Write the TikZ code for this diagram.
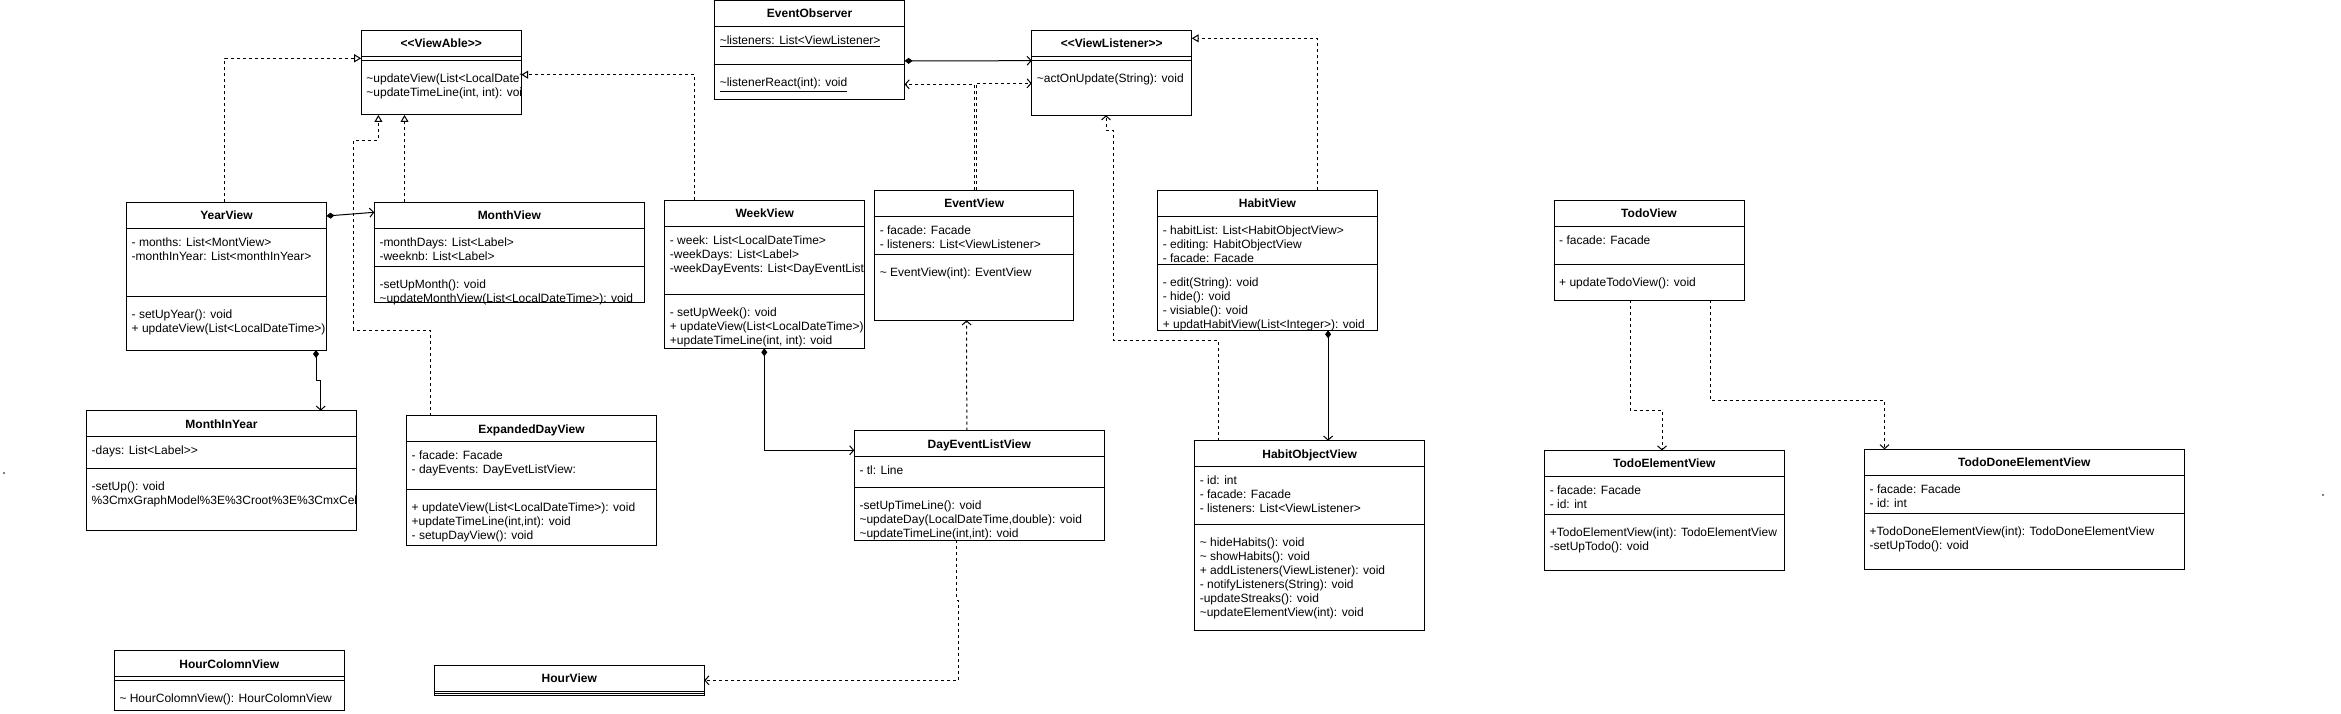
\documentclass[tikz,border=0pt]{standalone}
\usepackage{fontspec}
\setmainfont{Liberation Sans}
\usetikzlibrary{arrows.meta,positioning,calc}

% one class box: name, x, y, width, height, height of attribute part,
% title, attributes, methods
\newcommand{\umlclass}[9]{%
  \node[classbox, minimum width=#4, minimum height=#5] (#1) at (#2,#3) {};
  \draw[classline] ([yshift=-26pt]#1.north west) -- ([yshift=-26pt]#1.north east);
  \draw[classline] ([yshift={-26pt-#6pt}]#1.north west) -- ([yshift={-26pt-#6pt}]#1.north east);
  \node[classtitle] (#1-title) at ([yshift=-13pt]#1.north) {#7};
  \begin{scope}
    \clip ([yshift=40pt]#1.north west) rectangle ([yshift=-40pt]#1.south east);
    \node[members] (#1-attr) at ([xshift=5pt,yshift=-34pt]#1.north west) {\strut #8};
    \node[members] (#1-meth) at ([xshift=5pt,yshift={-38pt-#6pt}]#1.north west) {\strut #9};
  \end{scope}
}
\newcommand{\tld}{\textasciitilde}

\begin{document}
\begin{tikzpicture}[x=1pt, y=-1pt]
\tikzset{
  classbox/.style={draw, line width=1pt, fill=white, anchor=north west, inner sep=0pt, outer sep=0pt},
  classline/.style={line width=1pt},
  classtitle/.style={inner sep=0pt, font=\bfseries\fontsize{12}{14}\selectfont, text height=8.6pt, text depth=0pt},
  members/.style={anchor=north west, inner sep=0pt, align=left, font=\fontsize{12}{14}\selectfont},
  dashline/.style={line width=1pt, dash pattern=on 3pt off 3pt},
  realize/.style={dashline, -{Triangle[open, length=7pt, width=8pt]}},
  depend/.style={dashline, -{Straight Barb[length=4pt, width=9pt]}},
  compose/.style={line width=1pt, {Diamond[length=8pt, width=6pt]}-{Straight Barb[length=4pt, width=9pt]}},
}
\useasboundingbox (0,0) rectangle (2341,714);

% interfaces and observer
\umlclass{viewable}{361.2}{30.3}{160}{84.7}{4}{<{}<ViewAble>{}>}{}{\tld updateView(List<LocalDateTime>): void\\\tld updateTimeLine(int, int): void}
\umlclass{observer}{714.6}{0.5}{190}{99.5}{38.4}{EventObserver}{\underline{\tld listeners: List<ViewListener>}}{\underline{\tld listenerReact(int): void}}
\umlclass{listener}{1031.7}{30.3}{160}{85}{4}{<{}<ViewListener>{}>}{}{\tld actOnUpdate(String): void}

% calendar views
\umlclass{yearview}{126.5}{202.3}{200}{147.7}{67.7}{YearView}{- months: List<MontView>\\-monthInYear: List<monthInYear>}{- setUpYear(): void\\+ updateView(List<LocalDateTime>): void}
\umlclass{monthview}{374.3}{202.3}{270}{100}{38.4}{MonthView}{-monthDays: List<Label>\\-weeknb: List<Label>}{-setUpMonth(): void\\\tld updateMonthView(List<LocalDateTime>): void}
\umlclass{weekview}{664.7}{200.3}{200}{148}{68}{WeekView}{- week: List<LocalDateTime>\\-weekDays: List<Label>\\-weekDayEvents: List<DayEventListView>}{- setUpWeek(): void\\+ updateView(List<LocalDateTime>): void\\+updateTimeLine(int, int): void}
\umlclass{eventview}{874.6}{190.3}{199.2}{130}{38}{EventView}{- facade: Facade\\- listeners: List<ViewListener>}{\tld{} EventView(int): EventView}
\umlclass{monthinyear}{86.5}{410.7}{270}{119.3}{32}{MonthInYear}{-days: List<Label>{}>}{-setUp(): void\\\%3CmxGraphModel\%3E\%3Croot\%3E\%3CmxCell\%3E\%3CmxCell}
\umlclass{expanded}{406.5}{415.7}{250}{129.3}{47.6}{ExpandedDayView}{- facade: Facade\\- dayEvents: DayEvetListView:}{+ updateView(List<LocalDateTime>): void\\+updateTimeLine(int,int): void\\- setupDayView(): void}
\umlclass{dayevents}{854.3}{430.7}{250}{109.6}{30.4}{DayEventListView}{- tl: Line}{-setUpTimeLine(): void\\\tld updateDay(LocalDateTime,double): void\\\tld updateTimeLine(int,int): void}
\umlclass{hourcolomn}{114.3}{650.7}{230}{59.3}{4}{HourColomnView}{}{\tld{} HourColomnView(): HourColomnView}
\umlclass{hourview}{434.3}{665.5}{270}{29.5}{1.5}{HourView}{}{}

% habit views
\umlclass{habitview}{1157.6}{190.3}{219.7}{140}{48.3}{HabitView}{- habitList: List<HabitObjectView>\\- editing: HabitObjectView\\- facade: Facade}{- edit(String): void\\- hide(): void\\- visiable(): void\\+ updatHabitView(List<Integer>): void}
\umlclass{habitobject}{1194.6}{440.7}{230}{189.3}{58}{HabitObjectView}{- id: int\\- facade: Facade\\- listeners: List<ViewListener>}{\tld{} hideHabits(): void\\\tld{} showHabits(): void\\+ addListeners(ViewListener): void\\- notifyListeners(String): void\\-updateStreaks(): void\\\tld updateElementView(int): void}

% todo views
\umlclass{todoview}{1554}{200.3}{190}{99.7}{38}{TodoView}{- facade: Facade}{+ updateTodoView(): void}
\umlclass{todoelement}{1544.6}{450.5}{239.4}{119.5}{38}{TodoElementView}{- facade: Facade\\- id: int}{+TodoElementView(int): TodoElementView\\-setUpTodo(): void}
\umlclass{tododone}{1864.5}{449.3}{319.5}{119.7}{38}{TodoDoneElementView}{- facade: Facade\\- id: int}{+TodoDoneElementView(int): TodoDoneElementView\\-setUpTodo(): void}

% realizations
\draw[realize] ([xshift=98pt]yearview.north west) |- ([yshift=-28pt]viewable.north west);
\draw[realize] ([xshift=30.2pt]monthview.north west) -- ([xshift=43.3pt]viewable.south west);
\draw[realize] ([xshift=23.7pt]expanded.north west) -- ++(0,-85.7) -- ++(-76.3,0) -- ++(0,-189.7) -- ++(24.5,0) -- ([xshift=17.2pt]viewable.south west);
\draw[realize] ([xshift=29.6pt]weekview.north west) |- ([yshift=-44.4pt]viewable.north east);
\draw[realize] ([xshift=159.6pt]habitview.north west) |- ([yshift=-8pt]listener.north east);

% compositions
\draw[compose] ([yshift=-13.7pt]yearview.north east) -- ([yshift=-10pt]monthview.north west);
\draw[compose] ([xshift=189.5pt]yearview.south west) -- ++(0,30) -| ([xshift=234.2pt]monthinyear.north west);
\draw[compose] ([xshift=99.6pt]weekview.south west) |- ([yshift=-19.6pt]dayevents.north west);
\draw[compose] ([yshift=-60.4pt]observer.north east) -- ([yshift=-30.4pt]listener.north west);
\draw[compose] ([xshift=170.5pt]habitview.south west) -- ([xshift=133.5pt]habitobject.north west);

% dependencies
\draw[depend] ([xshift=112.5pt]dayevents.north west) -- ([xshift=92pt]eventview.south west);
\draw[depend] ([xshift=102pt]dayevents.south west) -- ++(0,59.7) -- ++(1.8,0) |- ([yshift=-14.8pt]hourview.north east);
\draw[depend] ([xshift=99.7pt]eventview.north west) |- ([yshift=-83.8pt]observer.north east);
\draw[depend] ([xshift=101.4pt]eventview.north west) |- ([yshift=-53pt]listener.north west);
\draw[depend] ([xshift=24pt]habitobject.north west) -- ++(0,-100) -- ++(-104.9,0) -- ++(0,-210) -| ([xshift=74.3pt]listener.south west);
\draw[depend] ([xshift=76pt]todoview.south west) -- ++(0,110) -| ([xshift=117.4pt]todoelement.north west);
\draw[depend] ([xshift=156pt]todoview.south west) -- ++(0,100) -| ([xshift=20pt]tododone.north west);

% stray marks
\fill[gray] (3,472) rectangle (5,474);
\fill[gray] (2322,494) rectangle (2324,496);
\end{tikzpicture}
\end{document}
